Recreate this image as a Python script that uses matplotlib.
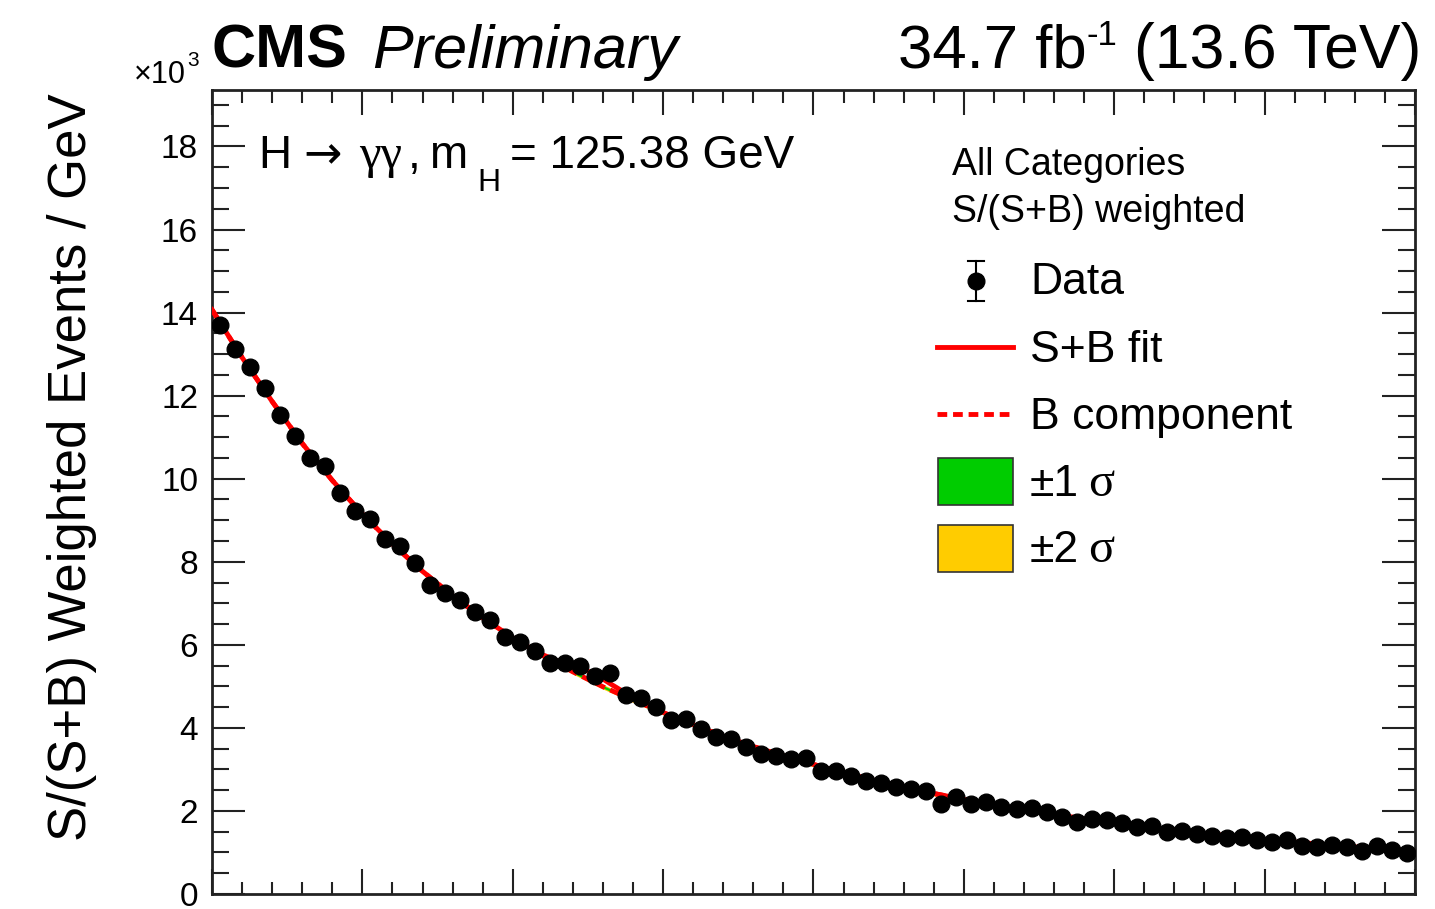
import matplotlib
matplotlib.use('Agg')
import matplotlib.pyplot as plt
from matplotlib.lines import Line2D
from matplotlib.patches import Rectangle
from matplotlib.ticker import MultipleLocator
import numpy as np

plt.rcParams['font.family'] = ['Liberation Sans', 'DejaVu Sans']

# ---------------- data (units of 10^3 weighted events / GeV) ----------------
mass_lo, mass_hi, bin_width = 100.0, 180.0, 1.0
data_k = [13.71, 13.13, 12.70, 12.19, 11.53, 11.03, 10.51, 10.30, 9.65, 9.23,
          9.03, 8.55, 8.39, 7.97, 7.45, 7.24, 7.07, 6.80, 6.60, 6.18,
          6.08, 5.86, 5.57, 5.56, 5.49, 5.24, 5.32, 4.78, 4.71,
          4.50, 4.19, 4.22, 3.98, 3.78, 3.73, 3.53, 3.38, 3.33, 3.24,
          3.27, 2.95, 2.95, 2.83, 2.72, 2.67, 2.57, 2.53, 2.49, 2.17,
          2.34, 2.16,
          2.22, 2.10, 2.04, 2.06, 1.98, 1.85, 1.74, 1.80, 1.78, 1.70,
          1.62, 1.64, 1.50, 1.52, 1.45, 1.40, 1.34, 1.37, 1.30, 1.26,
          1.30, 1.16, 1.14, 1.18, 1.14, 1.04, 1.16, 1.07, 0.98]

# background component sampled every 2 GeV
bkg_x = [100, 102, 104, 106, 108, 110, 112, 114, 116, 118, 120, 122, 124, 126,
         128, 130, 132, 134, 136, 138, 140, 142, 144, 146, 148, 150, 152, 154,
         156, 158, 160, 162, 164, 166, 168, 170, 172, 174, 176, 178, 180]
bkg_k = [14.07, 12.92, 11.86, 10.85, 9.96, 9.15, 8.43, 7.77, 7.18, 6.65,
         6.17, 5.74, 5.35, 4.99, 4.67, 4.37, 4.08, 3.80, 3.55, 3.33,
         3.12, 2.92, 2.74, 2.57, 2.42, 2.28, 2.15, 2.03, 1.92, 1.81,
         1.72, 1.63, 1.54, 1.46, 1.38, 1.31, 1.25, 1.19, 1.13, 1.08, 1.03]

# signal + background fit
sb_x = [100, 102, 104, 106, 108, 110, 112, 114, 116, 118, 120, 121, 122, 123,
        124, 124.5, 125, 125.4, 126, 126.5, 127, 128, 129, 130, 132, 134, 136,
        138, 140, 142, 144, 146, 148, 150, 152, 154, 156, 158, 160, 162, 164,
        166, 168, 170, 172, 174, 176, 178, 180]
sb_k = [14.07, 12.92, 11.86, 10.85, 9.96, 9.15, 8.43, 7.77, 7.18, 6.65,
        6.17, 5.955, 5.76, 5.61, 5.49, 5.43, 5.365, 5.30, 5.175, 5.06,
        4.95, 4.72, 4.535, 4.373, 4.08, 3.80, 3.55, 3.33, 3.12, 2.92,
        2.74, 2.57, 2.42, 2.28, 2.15, 2.03, 1.92, 1.81, 1.72, 1.63,
        1.54, 1.46, 1.38, 1.31, 1.25, 1.19, 1.13, 1.08, 1.03]

band1_halfwidth = 0.03
band2_halfwidth = 0.055

RED = '#FF0000'
GREEN = '#00CC00'
YELLOW = '#FFCC00'
SERIF = ['Liberation Serif', 'DejaVu Serif']

W, H = 1435, 909
fig = plt.figure(figsize=(W / 100, H / 100), dpi=100)
ax = fig.add_axes([212 / W, 1 - 894 / H, (1415 - 212) / W, (894 - 90) / H])

centres = np.arange(mass_lo + bin_width / 2, mass_hi, bin_width)
bx = np.array(bkg_x, dtype=float)
bk = np.array(bkg_k)

ax.fill_between(bx, bk - band2_halfwidth, bk + band2_halfwidth, color=YELLOW, lw=0, zorder=1)
ax.fill_between(bx, bk - band1_halfwidth, bk + band1_halfwidth, color=GREEN, lw=0, zorder=2)
ax.plot(bx, bk, color=RED, lw=3.5, ls=(0, (2, 1.2)), zorder=3)
ax.plot(sb_x, sb_k, color=RED, lw=3.5, zorder=4)
ax.plot(centres, data_k, 'o', color='black', ms=12, zorder=5)

ax.set_xlim(mass_lo, mass_hi)
ax.set_ylim(0, 19.36)
ax.xaxis.set_major_locator(MultipleLocator(10))
ax.xaxis.set_minor_locator(MultipleLocator(2))
ax.yaxis.set_major_locator(MultipleLocator(2))
ax.yaxis.set_minor_locator(MultipleLocator(0.5))
ax.tick_params(which='both', direction='in', top=True, right=True, width=1.5, color='#222222')
ax.tick_params(axis='y', which='major', length=24, labelsize=24, pad=10)
ax.tick_params(axis='y', which='minor', length=12)
ax.tick_params(axis='x', which='major', length=18, labelbottom=False)
ax.tick_params(axis='x', which='minor', length=9)
for s in ax.spines.values():
    s.set_linewidth(2)
    s.set_color('#222222')


def fx(x):
    return x / W


def fy(y):
    return 1 - y / H


def txt(x, y, s, size, **kw):
    kw.setdefault('ha', 'left')
    kw.setdefault('va', 'baseline')
    return fig.text(fx(x), fy(y), s, fontsize=size, **kw)


# axis label and headers
fig.text(fx(72), fy(467), 'S/(S+B) Weighted Events / GeV', rotation=90,
         fontsize=38, ha='center', va='center')
txt(134, 83, '\u00d710', 22)
txt(187, 66, '3', 15)
txt(212, 68, 'CMS', 44, fontweight='bold')
txt(372, 68, 'Preliminary', 44, fontstyle='italic')
txt(898, 68, '34.7 fb', 44.5)
txt(1087, 45, '-1', 25)
txt(1421, 68, '(13.6 TeV)', 45, ha='right')

# process label
txt(258, 168, 'H', 33)
txt(303, 168, '\u2192', 33, family=['DejaVu Sans'])
txt(359, 168, '\u03b3\u03b3', 35, family=SERIF)
txt(408, 168, ',', 33)
txt(429, 168, 'm', 33)
txt(477, 191, 'H', 23)
txt(510, 168, '= 125.38 GeV', 33)

# legend (ROOT style)
txt(952, 175, 'All Categories', 27)
txt(952, 222, 'S/(S+B) weighted', 27)
tx = 1030
txt(tx, 294, 'Data', 32)
txt(tx, 362, 'S+B fit', 32)
txt(tx, 429, 'B component', 32)
txt(tx, 496, '\u00b11', 32)
txt(1088, 496, '\u03c3', 35, family=SERIF)
txt(tx, 562, '\u00b12', 32)
txt(1088, 562, '\u03c3', 35, family=SERIF)

fig.add_artist(Line2D([fx(976), fx(976)], [fy(261), fy(301)], color='black', lw=1.5,
                      transform=fig.transFigure))
for yy in (261, 301):
    fig.add_artist(Line2D([fx(968), fx(984)], [fy(yy), fy(yy)], color='black', lw=1.5,
                          transform=fig.transFigure))
fig.add_artist(Line2D([fx(976)], [fy(281)], marker='o', ms=12, color='black',
                      transform=fig.transFigure))
fig.add_artist(Line2D([fx(937), fx(1013)], [fy(347), fy(347)], color=RED, lw=3.5,
                      transform=fig.transFigure))
fig.add_artist(Line2D([fx(937), fx(1013)], [fy(414), fy(414)], color=RED, lw=3.5,
                      ls=(0, (2, 1.2)), transform=fig.transFigure))
fig.add_artist(Rectangle((fx(938), fy(505)), fx(75), 47 / H, facecolor=GREEN,
                         edgecolor='#333333', lw=1.2, transform=fig.transFigure))
fig.add_artist(Rectangle((fx(938), fy(572)), fx(75), 47 / H, facecolor=YELLOW,
                         edgecolor='#333333', lw=1.2, transform=fig.transFigure))

fig.savefig('out.png', dpi=100)
